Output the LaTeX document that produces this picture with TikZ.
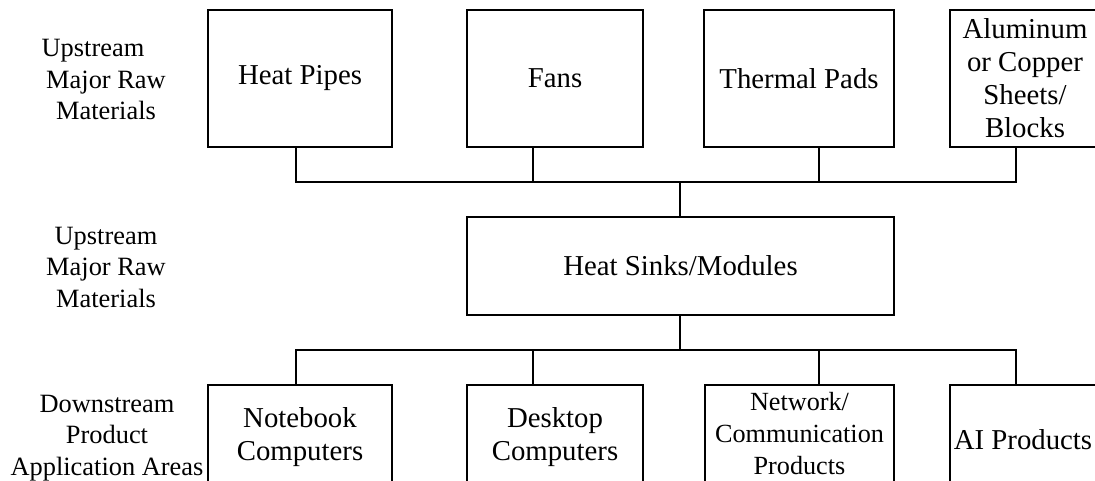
\documentclass[tikz,border=0pt]{standalone}
\usepackage{fontspec}
\setmainfont{Liberation Serif}
\begin{document}
\begin{tikzpicture}[x=1pt,y=-1pt,
  box/.style={draw=black, line width=1.5pt, inner sep=0pt, align=center,
              font=\fontsize{28.8pt}{33pt}\selectfont},
  smallbox/.style={box, font=\fontsize{26.2pt}{32pt}\selectfont},
  tier/.style={align=center, inner sep=0pt, font=\fontsize{26.4pt}{31.5pt}\selectfont},
  link/.style={draw=black, line width=1.5pt}]
\useasboundingbox (0,0) rectangle (1095,481);
\fill[white] (0,0) rectangle (1095,481);
\clip (0,0) rectangle (1095,481);

% tier labels on the left
\node[tier] (lup)   at (106,79.5) {Upstream\rule{26pt}{0pt}\\Major Raw\\Materials};
\node[tier] (lmid)  at (106,267)  {Upstream\\Major Raw\\Materials};
\node[tier] (ldown) at (107,438)  {Downstream\\Product\\Application Areas};

% upstream materials
\node[box, minimum width=184pt, minimum height=137pt] (hp) at (300,78.5) {Heat Pipes};
\node[box, minimum width=176pt, minimum height=137pt] (fan) at (555,78.5) {Fans};
\node[box, minimum width=190pt, minimum height=137pt] (tp) at (799,78.5) {Thermal Pads};
\node[box, minimum width=150pt, minimum height=137pt] (al) at (1025,78.5) {Aluminum\\or Copper\\Sheets/\\Blocks};

% core product
\node[box, minimum width=427pt, minimum height=98pt] (hs) at (680.5,266) {Heat Sinks/Modules};

% downstream applications
\node[box, minimum width=184pt, minimum height=105pt] (nb) at (300,437.5) {Notebook\\Computers};
\node[box, minimum width=176pt, minimum height=105pt] (dt) at (555,437.5) {Desktop\\Computers};
\node[box, minimum width=189pt, minimum height=105pt] (nw) at (799.5,437.5) {};
\node[smallbox, draw=none] (nwtext) at (799.5,434) {Network/\\Communication\\Products};
\node[box, minimum width=150pt, minimum height=105pt] (ai) at (1025,437.5) {};
\node[box, draw=none] (aitext) at (1023,440) {AI Products};

% bus junctions
\coordinate (tbus) at (680,182);
\coordinate (bbus) at (680,350);

% upstream bus
\draw[link] ([xshift=-4pt]hp.south)  |- (tbus);
\draw[link] ([xshift=-22pt]fan.south) |- (tbus);
\draw[link] ([xshift=20pt]tp.south)  |- (tbus);
\draw[link] ([xshift=-9pt]al.south)  |- (tbus);
\draw[link] (tbus) -- (tbus |- hs.north);

% downstream bus
\draw[link] (hs.south -| bbus) -- (bbus);
\draw[link] (bbus) -| ([xshift=-4pt]nb.north);
\draw[link] (bbus) -| ([xshift=-22pt]dt.north);
\draw[link] (bbus) -| ([xshift=19.5pt]nw.north);
\draw[link] (bbus) -| ([xshift=-9pt]ai.north);
\end{tikzpicture}
\end{document}
